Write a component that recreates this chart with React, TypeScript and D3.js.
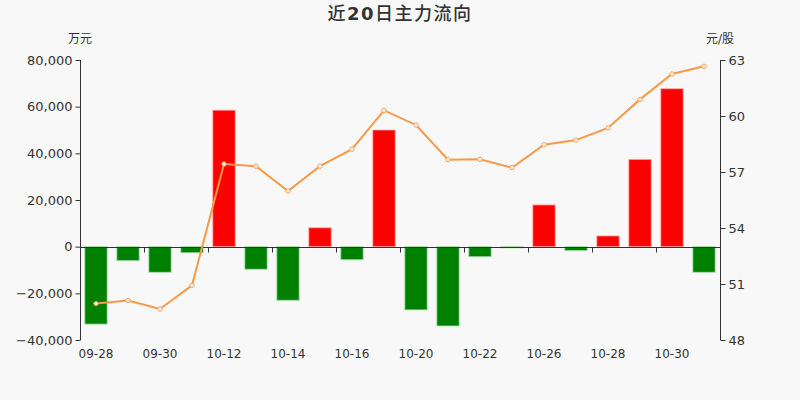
import * as React from 'react';
import * as d3 from 'd3';

const dates = [
  '09-28', '09-29', '09-30', '10-09', '10-12', '10-13', '10-14', '10-15', '10-16', '10-19',
  '10-20', '10-21', '10-22', '10-23', '10-26', '10-27', '10-28', '10-29', '10-30', '11-02',
];
// 主力净流入 (万元)
const flows = [
  -33200, -6000, -11000, -2600, 58500, -9700, -23000, 8100, -5600, 50000,
  -27100, -34000, -4300, -500, 17900, -1700, 4600, 37400, 67700, -11000,
];
// 收盘价 (元/股)
const prices = [
  49.95, 50.11, 49.66, 50.93, 57.43, 57.31, 55.98, 57.31, 58.22, 60.3,
  59.52, 57.66, 57.68, 57.23, 58.46, 58.71, 59.36, 60.89, 62.25, 62.66,
];
const leftTicks = [-40000, -20000, 0, 20000, 40000, 60000, 80000];
const rightTicks = [48, 51, 54, 57, 60, 63];

const width = 800;
const height = 400;
const margin = { top: 60, right: 80, bottom: 60, left: 80 };
const font = '"DejaVu Sans", "Noto Sans CJK SC", sans-serif';

export default function App() {
  const svgRef = React.useRef<SVGSVGElement>(null);

  React.useEffect(() => {
    if (!svgRef.current) return;
    const svg = d3.select(svgRef.current);
    svg.selectAll('*').remove();

    const innerW = width - margin.left - margin.right;
    const innerH = height - margin.top - margin.bottom;

    const x = d3.scaleBand<string>().domain(dates).range([margin.left, margin.left + innerW]);
    const yL = d3.scaleLinear().domain([-40000, 80000]).range([margin.top + innerH, margin.top]);
    const yR = d3.scaleLinear().domain([48, 63]).range([margin.top + innerH, margin.top]);

    svg.append('rect').attr('width', width).attr('height', height).attr('fill', '#f8f8f8');

    // title: digits bold, CJK regular weight, slightly spaced
    const title = svg
      .append('text')
      .attr('x', width / 2)
      .attr('y', 20)
      .attr('text-anchor', 'middle')
      .style('font-family', font)
      .style('font-size', '18px')
      .style('letter-spacing', '1.5px')
      .attr('fill', '#333');
    title.append('tspan').style('font-weight', '500').text('近');
    title.append('tspan').style('font-weight', 'bold').text('20');
    title.append('tspan').style('font-weight', '500').text('日主力流向');

    // unit labels
    svg
      .append('text')
      .attr('x', margin.left)
      .attr('y', 43)
      .attr('text-anchor', 'middle')
      .style('font-family', font)
      .style('font-size', '12px')
      .attr('fill', '#333')
      .text('万元');
    svg
      .append('text')
      .attr('x', width - margin.right)
      .attr('y', 43)
      .attr('text-anchor', 'middle')
      .style('font-family', font)
      .style('font-size', '12px')
      .attr('fill', '#333')
      .text('元/股');

    // left axis
    const leftAxis = d3
      .axisLeft(yL)
      .tickValues(leftTicks)
      .tickSize(5)
      .tickPadding(3)
      .tickFormat((d) => d3.format(',')(d as number));
    const gl = svg.append('g').attr('transform', `translate(${margin.left + 0.5},0)`).call(leftAxis);
    gl.select('.domain').attr('stroke', '#333').attr('d', `M0,${margin.top}V${margin.top + innerH}`);
    gl.selectAll('.tick line').attr('stroke', '#333');
    gl.selectAll('.tick text')
      .style('font-family', font)
      .style('font-size', '13px')
      .attr('fill', '#333');

    // right axis
    const rightAxis = d3.axisRight(yR).tickValues(rightTicks).tickSize(5).tickPadding(3);
    const gr = svg
      .append('g')
      .attr('transform', `translate(${margin.left + innerW + 0.5},0)`)
      .call(rightAxis);
    gr.select('.domain').attr('stroke', '#333').attr('d', `M0,${margin.top}V${margin.top + innerH}`);
    gr.selectAll('.tick line').attr('stroke', '#333');
    gr.selectAll('.tick text')
      .style('font-family', font)
      .style('font-size', '13px')
      .attr('fill', '#333');

    // bars
    const bw = x.bandwidth() * 0.7;
    svg
      .append('g')
      .selectAll('rect')
      .data(flows)
      .enter()
      .append('rect')
      .attr('x', (_, i) => (x(dates[i]) as number) + (x.bandwidth() - bw) / 2)
      .attr('y', (d) => yL(Math.max(0, d)))
      .attr('width', bw)
      .attr('height', (d) => Math.abs(yL(d) - yL(0)))
      .attr('fill', (d) => (d >= 0 ? '#ff0000' : '#008000'))
      .attr('stroke', (d) => (d >= 0 ? 'rgba(255,170,170,0.8)' : 'rgba(170,230,170,0.8)'))
      .attr('stroke-width', 1);

    // zero axis line with category ticks
    const zeroY = Math.round(yL(0)) + 0.5;
    const xg = svg.append('g');
    xg.append('line')
      .attr('x1', margin.left)
      .attr('x2', margin.left + innerW)
      .attr('y1', zeroY)
      .attr('y2', zeroY)
      .attr('stroke', '#333');
    xg.selectAll('line.tk')
      .data(dates.filter((_, i) => i % 2 === 0))
      .enter()
      .append('line')
      .attr('class', 'tk')
      .attr('x1', (d) => Math.round(x(d) as number) + 0.5)
      .attr('x2', (d) => Math.round(x(d) as number) + 0.5)
      .attr('y1', zeroY)
      .attr('y2', zeroY + 5)
      .attr('stroke', '#333');

    // category labels at the bottom
    svg
      .append('g')
      .selectAll('text')
      .data(dates.filter((_, i) => i % 2 === 0))
      .enter()
      .append('text')
      .attr('x', (d) => (x(d) as number) + x.bandwidth() / 2)
      .attr('y', margin.top + innerH + 18)
      .attr('text-anchor', 'middle')
      .style('font-family', font)
      .style('font-size', '12px')
      .attr('fill', '#333')
      .text((d) => d);

    // price line
    const cx = (i: number) => (x(dates[i]) as number) + x.bandwidth() / 2;
    const line = d3
      .line<number>()
      .x((_, i) => cx(i))
      .y((d) => yR(d));
    svg
      .append('path')
      .datum(prices)
      .attr('d', line)
      .attr('fill', 'none')
      .attr('stroke', '#f8994a')
      .attr('stroke-width', 2);
    svg
      .append('g')
      .selectAll('circle')
      .data(prices)
      .enter()
      .append('circle')
      .attr('cx', (_, i) => cx(i))
      .attr('cy', (d) => yR(d))
      .attr('r', 2.2)
      .attr('fill', '#fff')
      .attr('stroke', '#f8994a')
      .attr('stroke-width', 1);
  }, []);

  return (
    <svg
      ref={svgRef}
      width={width}
      height={height}
      style={{ position: 'absolute', left: 0, top: 0, display: 'block' }}
    />
  );
}
